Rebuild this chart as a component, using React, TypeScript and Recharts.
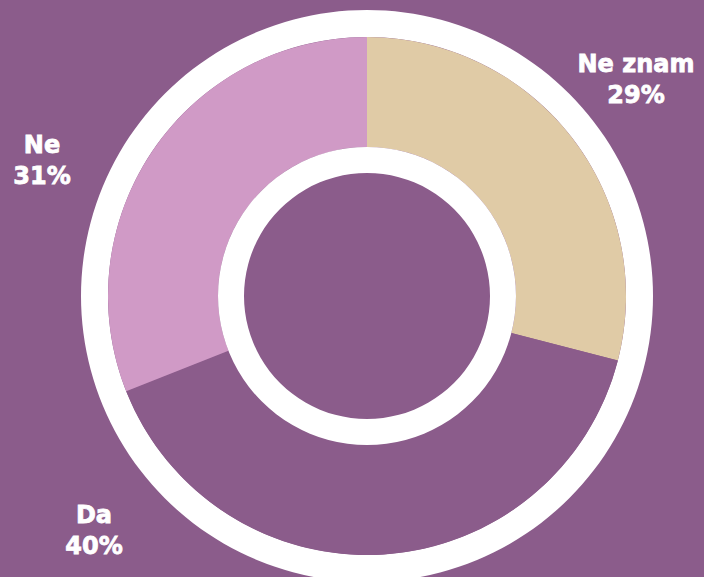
import { PieChart, Pie, Cell } from 'recharts';

const categories = ['Ne znam', 'Da', 'Ne'];
const shares = [29, 40, 31];

const COLORS = ['#E0CBA6', '#8B5C8B', '#D09AC6'];
const BG = '#8B5C8B';

// label anchor (centre x, first line baseline) per slice
const LABEL_POS = [
  { x: 636, y: 72 },
  { x: 94, y: 523 },
  { x: 42, y: 153 },
];

const chartData = categories.map((name, i) => ({ name, value: shares[i] }));
const ring = [{ name: 'ring', value: 1 }];

const CX = 367;
const CY = 296;

function renderLabel(props: any) {
  const pos = LABEL_POS[props.index];
  return (
    <text
      x={pos.x}
      y={pos.y}
      textAnchor="middle"
      fill="#fff"
      stroke="#fff"
      strokeWidth={0.8}
      fontFamily="'DejaVu Sans', sans-serif"
      fontWeight="bold"
      fontSize={24}
    >
      <tspan x={pos.x} dy={0}>{props.name}</tspan>
      <tspan x={pos.x} dy={31}>{`${props.value}%`}</tspan>
    </text>
  );
}

export default function App() {
  return (
    <div style={{ position: 'fixed', left: 0, top: 0, width: 704, height: 577, background: BG }}>
      <PieChart width={704} height={577} margin={{ top: 0, right: 0, bottom: 0, left: 0 }}>
        <Pie
          data={ring}
          dataKey="value"
          cx={CX}
          cy={CY}
          innerRadius={259}
          outerRadius={286}
          fill="#fff"
          stroke="none"
          isAnimationActive={false}
        />
        <Pie
          data={chartData}
          dataKey="value"
          cx={CX}
          cy={CY}
          innerRadius={149}
          outerRadius={259}
          startAngle={90}
          endAngle={-270}
          stroke="none"
          label={renderLabel}
          labelLine={false}
          isAnimationActive={false}
        >
          {chartData.map((_, index) => (
            <Cell key={`cell-${index}`} fill={COLORS[index]} />
          ))}
        </Pie>
        <Pie
          data={ring}
          dataKey="value"
          cx={CX}
          cy={CY}
          innerRadius={123}
          outerRadius={149}
          fill="#fff"
          stroke="none"
          isAnimationActive={false}
        />
      </PieChart>
    </div>
  );
}
